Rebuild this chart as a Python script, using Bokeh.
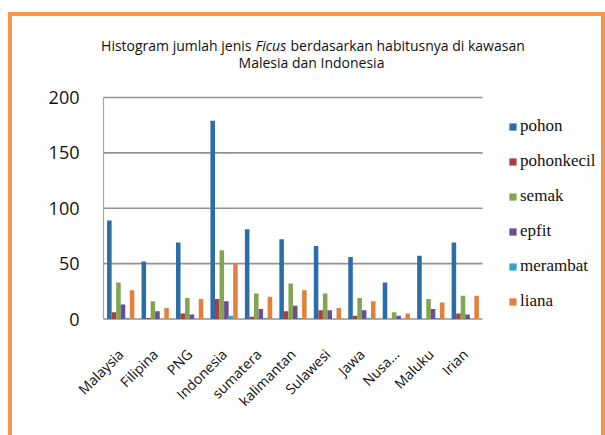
import math
from bokeh.plotting import figure
from bokeh.models import Range1d, FixedTicker, Legend, LegendItem, Label
from bokeh.embed import file_html
from bokeh.resources import INLINE

# ---- data ----
categories = ["Malaysia", "Filipina", "PNG", "Indonesia", "sumatera", "kalimantan",
              "Sulawesi", "Jawa", "Nusa...", "Maluku", "Irian"]
series_names = ["pohon", "pohonkecil", "semak", "epfit", "merambat", "liana"]
pohon      = [89, 52, 69, 179, 81, 72, 66, 56, 33, 57, 69]
pohonkecil = [6, 1, 5, 18, 2, 7, 8, 3, 0, 0, 5]
semak      = [33, 16, 19, 62, 23, 32, 23, 19, 6, 18, 21]
epfit      = [13, 7, 4, 16, 9, 12, 8, 8, 3, 9, 4]
merambat   = [1, 0, 0, 3, 1, 1, 0, 1, 0, 1, 0]
liana      = [26, 10, 18, 50, 20, 26, 10, 16, 5, 15, 21]
y_ticks = [0, 50, 100, 150, 200]
title_line1 = ("Histogram jumlah jenis", "Ficus", "berdasarkan habitusnya di kawasan")
title_line2 = "Malesia dan Indonesia"

series = [pohon, pohonkecil, semak, epfit, merambat, liana]
colors = ["#2C6DA8", "#A9403D", "#83A552", "#6A4F96", "#34A5BF", "#E4803D"]
ORANGE = "#F79646"

W, H = 605, 435
n = len(categories)
# frame placement in canvas pixels
FL, FR, FT, FB = 88, 605, 24, 321
X0_PX, XN_PX = 103.0, 482.0      # pixel of x=0 and x=n
Y0_PX, Y200_PX = 318.5, 97.0     # pixel of y=0 and y=200
xs_per_px = n / (XN_PX - X0_PX)
ys_per_px = 200 / (Y0_PX - Y200_PX)
XMIN = -(X0_PX - FL) * xs_per_px
XMAX = (FR - X0_PX) * xs_per_px
YMIN = -(FB - Y0_PX) * ys_per_px
YMAX = (Y0_PX - FT) * ys_per_px

def dx(px):
    return (px - X0_PX) * xs_per_px

def dy(py):
    return (Y0_PX - py) * ys_per_px

p = figure(width=W, height=H, output_backend="svg", toolbar_location=None,
           x_range=Range1d(XMIN, XMAX), y_range=Range1d(YMIN, YMAX),
           min_border_left=FL, min_border_right=W - FR,
           min_border_top=FT, min_border_bottom=H - FB)
p.outline_line_color = None
p.background_fill_color = None
p.border_fill_color = None
p.styles = {"box-shadow": (
    "inset 8px 0 0 0 #ffffff, inset 0 12px 0 0 #ffffff, "
    f"inset 12px 0 0 0 {ORANGE}, inset 0 16px 0 0 {ORANGE}, "
    f"inset -4px 0 0 0 {ORANGE}"),
    "background-color": "#ffffff"}

# gridlines (incl. baseline) and value axis line
p.segment(x0=[0] * len(y_ticks), x1=[n] * len(y_ticks), y0=y_ticks, y1=y_ticks,
          line_color="#929292", line_width=1.6, level="underlay")
p.segment(x0=[0], x1=[0], y0=[0], y1=[max(y_ticks)],
          line_color="#a6a6a6", line_width=1.2, level="underlay")

bw = 0.132
items = []
for k, (name, vals, col) in enumerate(zip(series_names, series, colors)):
    xs = [i + 0.5 + (k - 2.5) * bw for i in range(n)]
    r = p.vbar(x=xs, top=vals, width=bw, fill_color=col, line_color=None)
    items.append(LegendItem(label=name, renderers=[r]))

# axes
p.xaxis.ticker = FixedTicker(ticks=[i + 0.5 for i in range(n)])
p.xaxis.major_label_overrides = {i + 0.5: c for i, c in enumerate(categories)}
p.xaxis.major_label_orientation = math.pi / 4
p.xaxis.major_label_text_font = "Open Sans"
p.xaxis.major_label_text_font_size = "14px"
p.xaxis.major_label_text_color = "#111111"
p.xaxis.major_label_standoff = 24
p.xaxis.axis_line_color = None
p.xaxis.major_tick_line_color = None
p.xaxis.minor_tick_line_color = None
p.xgrid.grid_line_color = None

p.yaxis.ticker = FixedTicker(ticks=y_ticks)
p.yaxis.major_label_text_font = "Open Sans"
p.yaxis.major_label_text_font_size = "18px"
p.yaxis.major_label_text_color = "#111111"
p.yaxis.major_label_standoff = 3
p.yaxis.axis_line_color = None
p.yaxis.major_tick_line_color = None
p.yaxis.minor_tick_line_color = None
p.ygrid.grid_line_color = None

# legend (inside the wide frame)
legend = Legend(items=items, location=(int(508 - FL), 10), padding=0, margin=0,
                border_line_color=None, background_fill_alpha=0,
                label_text_font="Liberation Serif", label_text_font_size="17px",
                label_text_color="#111111",
                glyph_width=9, glyph_height=9, label_height=20, spacing=15,
                label_standoff=3)
p.add_layout(legend)

# title
TF, TS = "Open Sans", "14px"
p.add_layout(Label(x=dx(251), y=dy(45), text=title_line1[0], text_align="right",
                   text_baseline="middle", text_font=TF, text_font_size=TS, text_color="#111111"))
p.add_layout(Label(x=dx(255), y=dy(45), text=title_line1[1], text_align="left",
                   text_font_style="italic",
                   text_baseline="middle", text_font=TF, text_font_size=TS, text_color="#111111"))
p.add_layout(Label(x=dx(290), y=dy(45), text=title_line1[2], text_align="left",
                   text_baseline="middle", text_font=TF, text_font_size=TS, text_color="#111111"))
p.add_layout(Label(x=dx(311), y=dy(62), text=title_line2, text_align="center",
                   text_baseline="middle", text_font=TF, text_font_size=TS, text_color="#111111"))

open("out.html", "w").write(file_html(p, INLINE))
